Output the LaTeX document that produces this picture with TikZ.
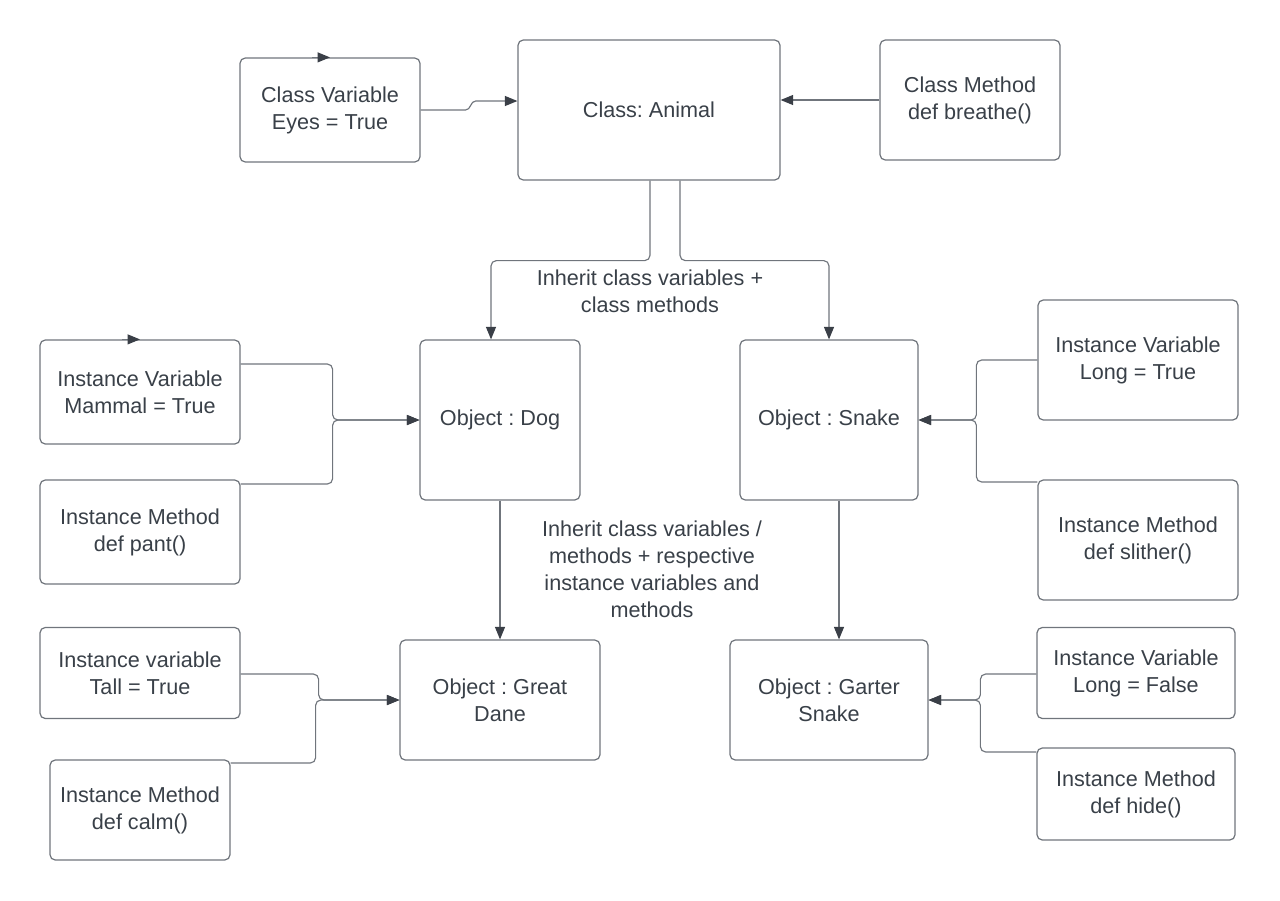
\documentclass[tikz,border=0pt]{standalone}
\usepackage{fontspec}
\setmainfont{Liberation Sans}
\usetikzlibrary{positioning, arrows.meta, calc}
\definecolor{lineGray}{RGB}{112,117,124}
\definecolor{tipGray}{RGB}{58,63,71}
\definecolor{textGray}{RGB}{57,64,72}
\tikzset{
	objbox/.style={rectangle, draw=lineGray, rounded corners=3pt, line width=0.7pt,
		align=center, text=textGray, font=\fontsize{12.3}{15.4}\selectfont\frenchspacing, inner sep=2pt},
	boxwh/.style 2 args={minimum width=#1*0.02cm, minimum height=#2*0.02cm},
	linkarr/.style={-{Triangle[length=2.5mm, width=2mm, color=tipGray]}, draw=lineGray,
		line width=0.65pt, rounded corners=3pt},
	notetext/.style={align=center, text=textGray, font=\fontsize{12.3}{15.4}\selectfont\frenchspacing}
}
\begin{document}
\begin{tikzpicture}[x=0.02cm, y=-0.02cm]
	\useasboundingbox (0,0) rectangle (1280,900);
	\node[objbox, boxwh={262}{140}] (animal) at (649,110) {Class: Animal};
	\node[objbox, boxwh={180}{104}] (cvar) at (330,110) {Class Variable\\Eyes = True};
	\node[objbox, boxwh={180}{120}] (cmeth) at (970,100) {Class Method\\def breathe()};
	\node[objbox, boxwh={160}{160}] (dog) at (500,420) {Object : Dog};
	\node[objbox, boxwh={178}{160}] (snake) at (829,420) {Object : Snake};
	\node[objbox, boxwh={200}{104}] (ivdog) at (140,392) {Instance Variable\\Mammal = True};
	\node[objbox, boxwh={200}{104}] (imdog) at (140,532) {Instance Method\\def pant()};
	\node[objbox, boxwh={200}{120}] (ivlong) at (1138,360) {Instance Variable\\Long = True};
	\node[objbox, boxwh={200}{120}] (imslither) at (1138,540) {Instance Method\\def slither()};
	\node[objbox, boxwh={200}{120}] (dane) at (500,700) {Object : Great\\Dane};
	\node[objbox, boxwh={198}{120}] (garter) at (829,700) {Object : Garter\\Snake};
	\node[objbox, boxwh={200}{91}] (ivtall) at (140,673) {Instance variable\\Tall = True};
	\node[objbox, boxwh={180}{100}] (imcalm) at (140,810) {Instance Method\\def calm()};
	\node[objbox, boxwh={198}{91}] (ivfalse) at (1136,673) {Instance Variable\\Long = False};
	\node[objbox, boxwh={198}{92}] (imhide) at (1136,794) {Instance Method\\def hide()};
	\node[notetext] (lblclass) at (650,291) {Inherit class variables +\\class methods};
	\node[notetext] (lblobj) at (652,569) {Inherit class variables /\\methods + respective\\instance variables and\\methods};
	\draw[linkarr] ($(cvar.north)+(-18,0)$) -- (cvar.north);
	\draw[linkarr] ($(ivdog.north)+(-18,0)$) -- (ivdog.north);
	\draw[linkarr, sharp corners] (cvar.east) -- ++(45,0) to[out=0, in=180] ++(10,-9) -- ($(animal.west)+(0,-9)$);
	\draw[linkarr] (cmeth.west) -- (cmeth.west -| animal.east);
	\draw[linkarr] ($(animal.south)+(1,0)$) -- ++(0,80) -| ($(dog.north)+(-9,0)$);
	\draw[linkarr] ($(animal.south)+(31,0)$) -- ++(0,80) -| (snake.north);
	\draw[linkarr] ($(ivdog.east)+(0,-28)$) -- ++(92,0) |- (dog.west);
	\draw[linkarr] ($(imdog.east)+(0,-48)$) -- ++(92,0) |- (dog.west);
	\draw[linkarr] ($(ivlong.west)+(0,0)$) -- ++(-61,0) |- (snake.east);
	\draw[linkarr] ($(imslither.west)+(0,-58)$) -- ++(-61,0) |- (snake.east);
	\draw[linkarr] (dog.south) -- (dane.north);
	\draw[linkarr] ($(snake.south)+(10,0)$) -- ($(garter.north)+(10,0)$);
	\draw[linkarr] ($(ivtall.east)+(0,1)$) -- ++(78,0) |- (dane.west);
	\draw[linkarr] ($(imcalm.east)+(0,-47)$) -- ++(85,0) |- (dane.west);
	\draw[linkarr] ($(ivfalse.west)+(0,1)$) -- ++(-56,0) |- (garter.east);
	\draw[linkarr] ($(imhide.west)+(0,-42)$) -- ++(-56,0) |- (garter.east);
\end{tikzpicture}
\end{document}
